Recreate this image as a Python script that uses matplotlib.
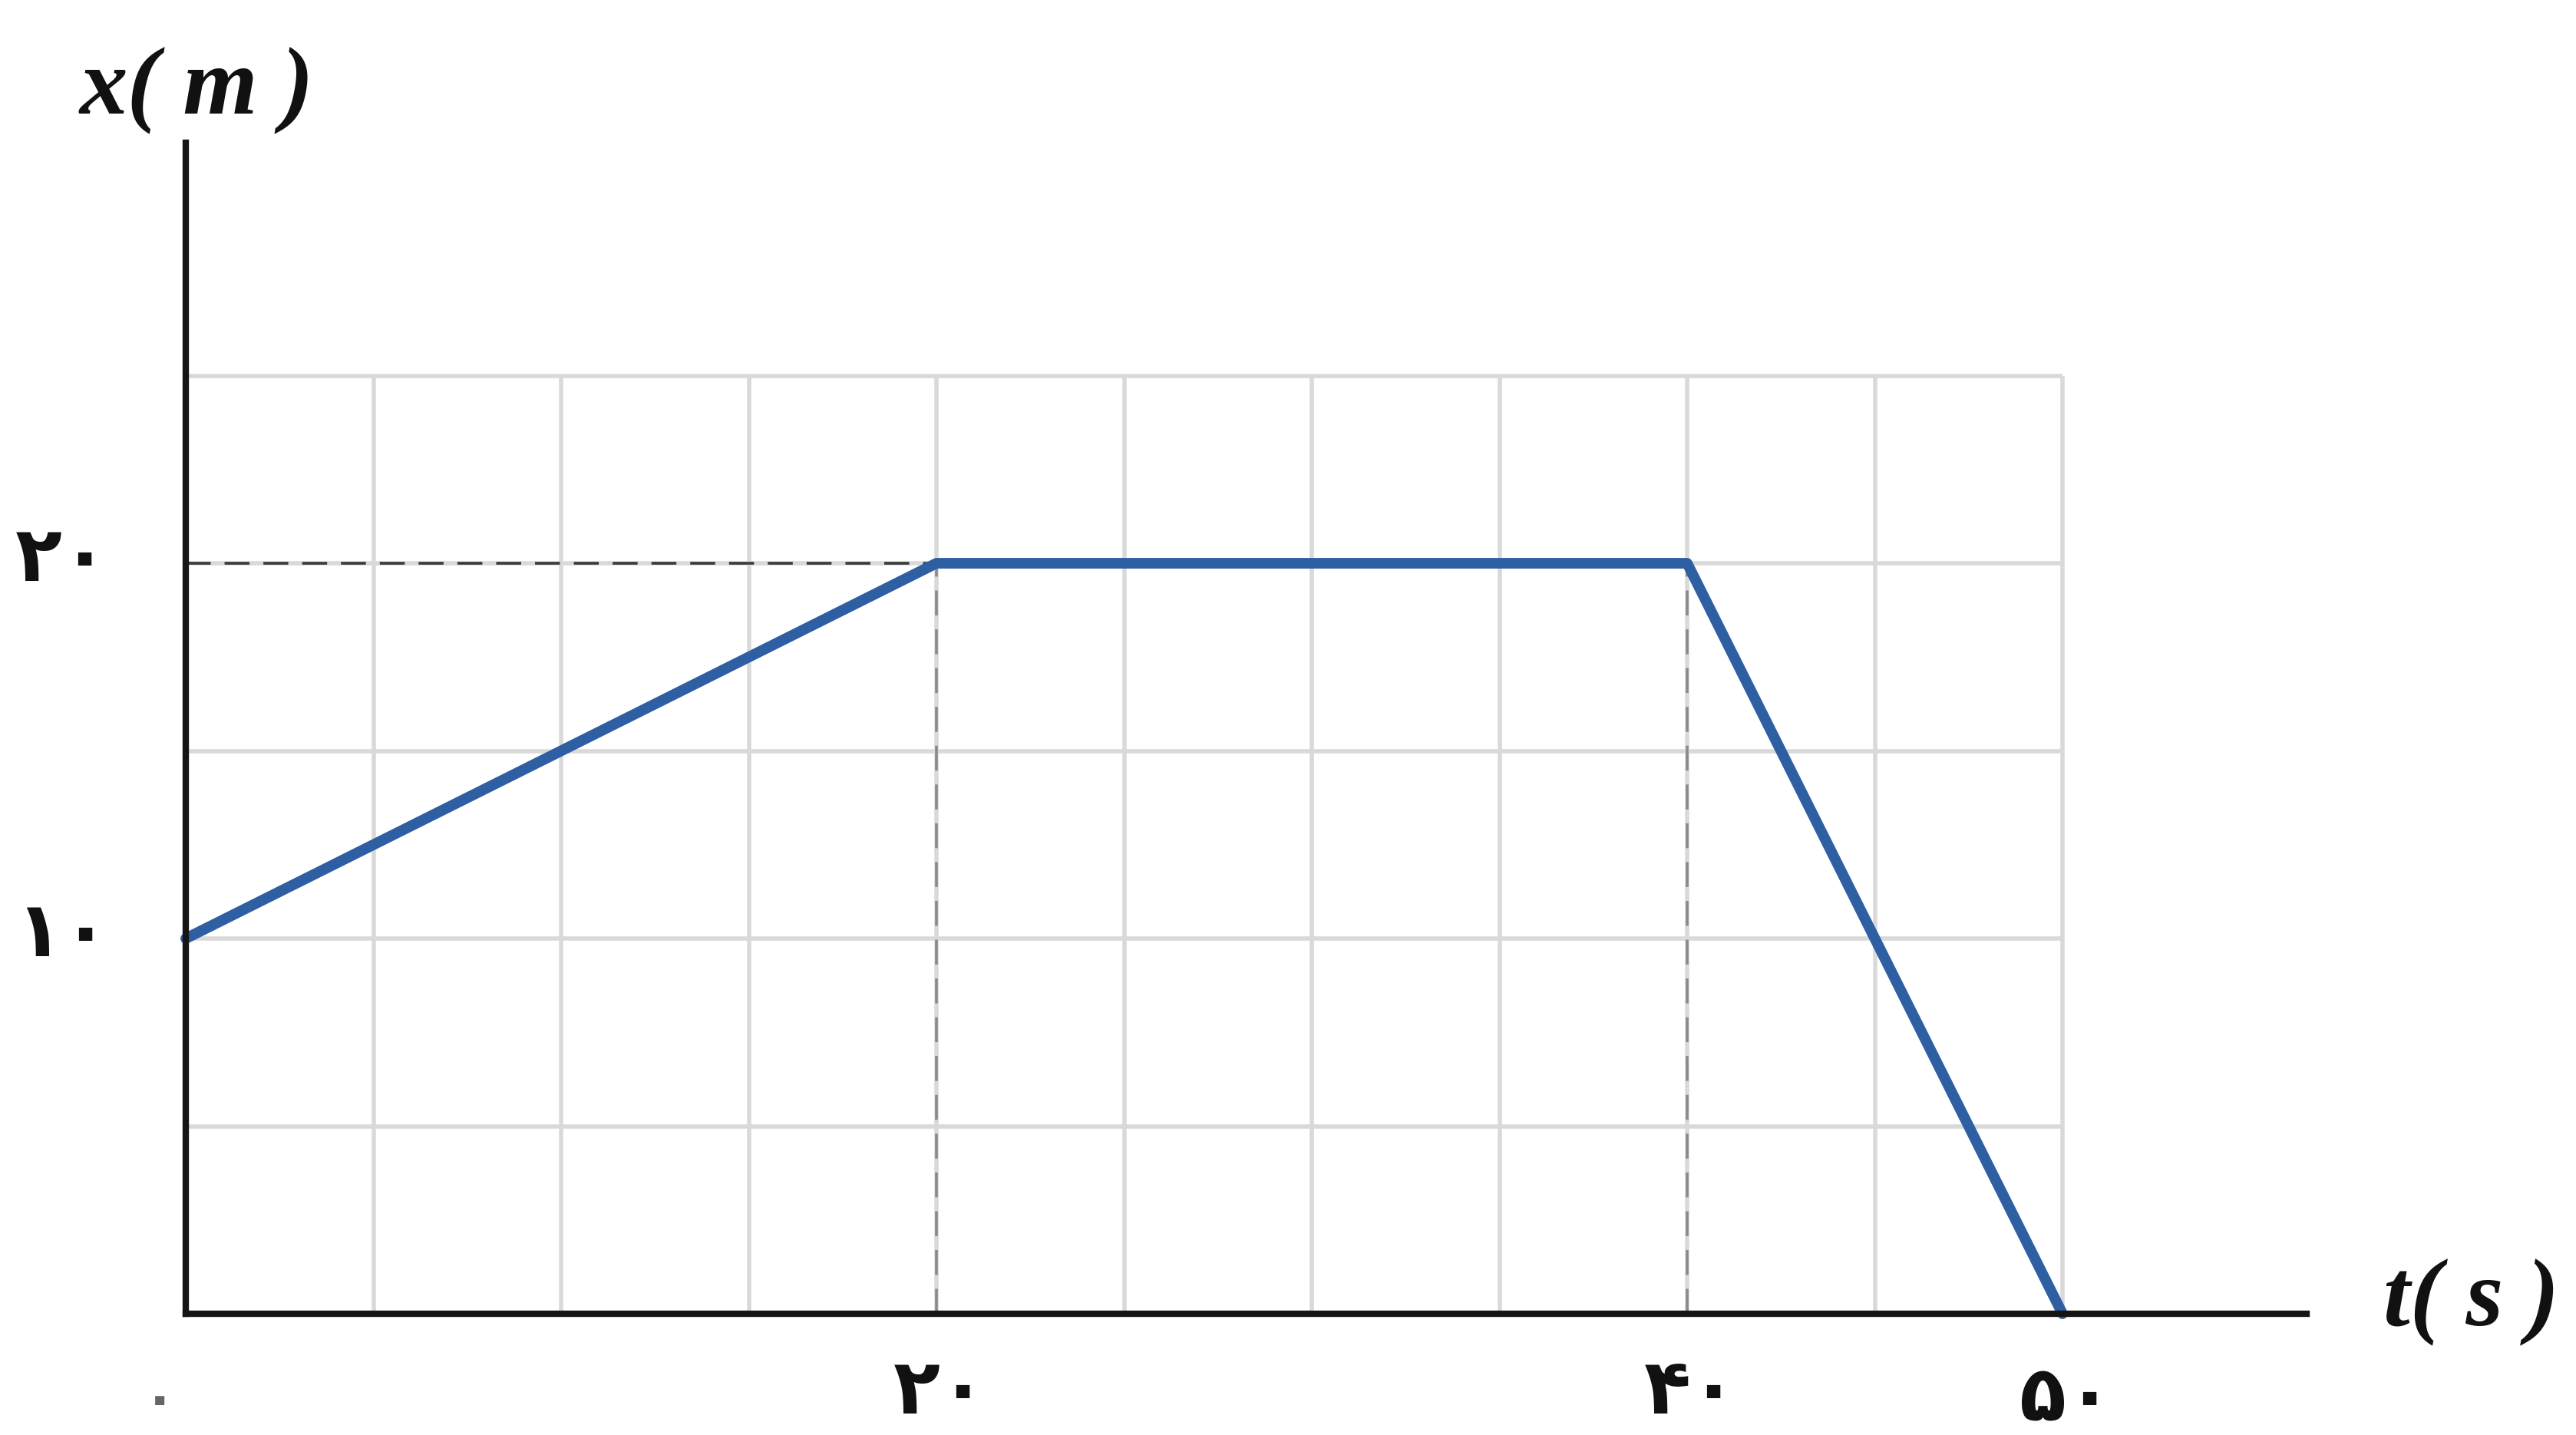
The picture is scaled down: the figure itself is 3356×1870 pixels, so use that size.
import matplotlib
matplotlib.use("Agg")
import matplotlib.pyplot as plt
import numpy as np

# Data
t_values = [0, 20, 40, 50]
x_values = [10, 20, 20, 0]
grid_t = [5, 10, 15, 20, 25, 30, 35, 40, 45, 50]
grid_x = [5, 10, 15, 20, 25]
ytick_vals = [10, 20]
ytick_labels = ["۱۰", "۲۰"]
xtick_vals = [20, 40, 50]
xtick_labels = ["۲۰", "۴۰", "۵۰"]
origin_label = "۰"
ylabel = "x( m )"
xlabel = "t( s )"

W, H = 3356, 1870
dpi = 100
fig = plt.figure(figsize=(W / dpi, H / dpi), dpi=dpi)
ax = fig.add_axes([0, 0, 1, 1])

unit = 48.9  # px per unit
ox, oy = 242, 1712
ax.set_xlim(-ox / unit, (W - ox) / unit)
ax.set_ylim(-(H - oy) / unit, oy / unit)

for s in ["top", "right"]:
    ax.spines[s].set_visible(False)
ax.spines["left"].set_position(("data", 0))
ax.spines["bottom"].set_position(("data", 0))
ax.spines["left"].set_bounds(0, 31.2)
ax.spines["bottom"].set_bounds(0, 56.5)
for s in ["left", "bottom"]:
    ax.spines[s].set_linewidth(6)
    ax.spines[s].set_color("#151515")
    ax.spines[s].set_zorder(5)
ax.set_xticks([])
ax.set_yticks([])

grid_color = "#d9d9d9"
ax.vlines(grid_t, 0, max(grid_x), colors=grid_color, linewidth=4, zorder=1)
ax.hlines(grid_x, 0, max(grid_t), colors=grid_color, linewidth=4, zorder=1)

# dashed guides
ax.hlines([20], 0, 20, colors="#3a3a3a", linewidth=2.6, linestyles=(0, (9, 5)), zorder=2)
ax.vlines([20, 40], 0, 20, colors="#8a8a8a", linewidth=2.6, linestyles=(0, (9, 5)), zorder=2)

ax.plot(t_values, x_values, color="#2f5fa3", linewidth=10, solid_joinstyle="round",
        solid_capstyle="round", zorder=4)

digit_font = dict(family=["DejaVu Sans"], fontweight="bold", fontsize=72, color="#111111")
for v, lab in zip(ytick_vals, ytick_labels):
    ax.text(-3.3, v + 0.1, lab, ha="center", va="center", **digit_font)
for v, lab in zip(xtick_vals, xtick_labels):
    dy = -2.3 if v == 50 else -2.1
    ax.text(v + 0.1, dy, lab, ha="center", va="center", **digit_font)
ax.text(-0.7, -2.3, origin_label, ha="center", va="center",
        family=["DejaVu Sans"], fontweight="bold", fontsize=50, color="#666666")

label_font = dict(family=["Liberation Serif"], fontstyle="italic", fontweight="bold",
                  fontsize=90, color="#111111")
ax.text(0.3, 32.6, ylabel, ha="center", va="center", **label_font)
ax.text(60.9, 0.3, xlabel, ha="center", va="center", **label_font)

fig.savefig("out.png", dpi=dpi)
